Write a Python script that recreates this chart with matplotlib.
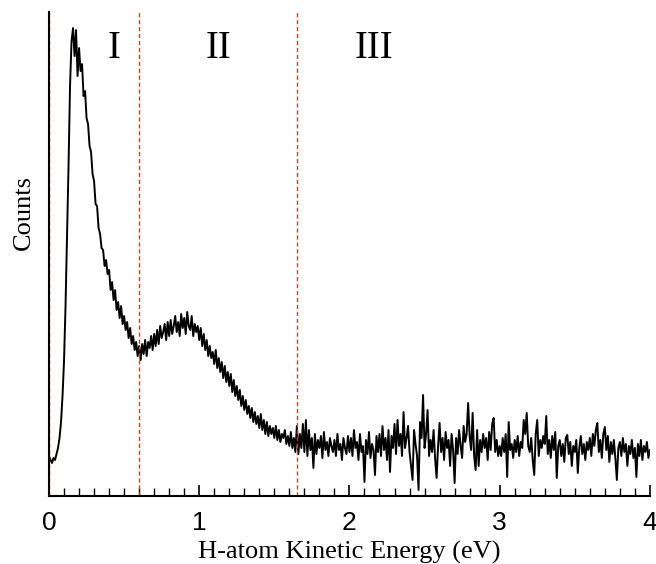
import numpy as np
import matplotlib.pyplot as plt
from matplotlib.ticker import MultipleLocator

# kinetic energy grid, 0.01 eV steps (0 ... 4 eV)
energy = np.arange(401) * 0.01

# counts (arbitrary units), one row per 0.1 eV
counts = [
    40, 36, 33, 38, 36, 42, 48, 58, 74, 100,
    135, 190, 260, 330, 410, 455, 468, 440, 466, 420,
    448, 425, 432, 400, 405, 378, 372, 350, 344, 322,
    315, 292, 290, 268, 262, 248, 246, 230, 236, 222,
    226, 206, 214, 196, 206, 186, 194, 178, 190, 172,
    180, 166, 174, 158, 168, 152, 160, 146, 154, 140,
    150, 136, 152, 142, 156, 140, 154, 148, 160, 146,
    162, 150, 166, 152, 170, 158, 164, 172, 156, 174,
    160, 176, 162, 170, 180, 164, 174, 160, 182, 168,
    178, 162, 184, 170, 166, 180, 160, 172, 164, 170,
    156, 168, 150, 162, 146, 156, 140, 150, 138, 144,
    132, 146, 128, 138, 124, 134, 118, 130, 114, 124,
    110, 122, 104, 116, 100, 110, 96, 106, 90, 100,
    86, 96, 82, 90, 78, 88, 74, 84, 72, 80,
    68, 82, 66, 76, 62, 74, 60, 70, 62, 68,
    58, 70, 56, 66, 54, 62, 58, 66, 52, 60,
    50, 64, 48, 58, 44, 70, 42, 62, 48, 72,
    44, 76, 40, 66, 46, 58, 28, 62, 42, 56,
    48, 60, 38, 64, 46, 54, 40, 58, 50, 44,
    56, 40, 62, 46, 52, 36, 58, 48, 42, 60,
    44, 58, 40, 66, 48, 54, 36, 62, 44, 50,
    14, 56, 42, 64, 38, 52, 46, 21, 60, 44,
    62, 40, 70, 46, 58, 36, 66, 24, 60, 48,
    72, 42, 76, 50, 62, 40, 84, 48, 58, 70,
    44, 30, 16, 66, 52, 40, 6, 74, 58, 101,
    48, 62, 86, 40, 56, 44, 66, 38, 18, 50,
    73, 44, 58, 36, 64, 48, 56, 30, 62, 46,
    13, 58, 42, 66, 50, 38, 70, 54, 62, 93,
    60, 46, 83, 40, 26, 66, 30, 56, 44, 62,
    48, 58, 36, 64, 46, 72, 78, 44, 56, 40,
    50, 40, 58, 44, 62, 19, 74, 46, 52, 38,
    56, 44, 60, 40, 54, 48, 76, 62, 83, 50,
    44, 58, 36, 21, 62, 76, 40, 56, 48, 60,
    52, 80, 42, 56, 38, 60, 46, 64, 18, 50,
    56, 40, 52, 34, 58, 61, 42, 54, 30, 50,
    44, 56, 23, 48, 60, 42, 52, 36, 54, 46,
    58, 40, 62, 50, 66, 73, 44, 56, 38, 62,
    69, 46, 60, 34, 54, 42, 56, 38, 16, 48,
    54, 40, 58, 44, 52, 30, 50, 42, 56, 38,
    48, 19, 52, 40, 56, 36, 50, 44, 54, 38,
    46,
]

# region boundaries and labels
boundaries = [0.0, 0.6, 1.65]
region_names = ["I", "II", "III"]
region_x = [0.43, 1.13, 2.16]

serif = "Liberation Serif"
sans = "Liberation Sans"

fig = plt.figure(figsize=(6.56, 5.64), dpi=100)
ax = fig.add_axes([0.0747, 0.1206, 0.916, 0.858])

ax.plot(energy, counts, color="black", linewidth=1.4)

for b in boundaries:
    ax.axvline(b, color="#ff2a2a", linestyle=(0, (3, 2)), linewidth=1.0)

for name, xpos in zip(region_names, region_x):
    ax.text(xpos, 448, name, family=serif, fontsize=28,
            ha="center", va="center")

ax.set_xlim(0, 4)
ax.set_ylim(0, 484)

ax.spines["top"].set_visible(False)
ax.spines["right"].set_visible(False)
ax.spines["left"].set_linewidth(1.5)
ax.spines["bottom"].set_linewidth(1.5)

ax.set_yticks([])
ax.xaxis.set_major_locator(MultipleLocator(1))
ax.xaxis.set_minor_locator(MultipleLocator(0.1))
ax.tick_params(axis="x", which="major", direction="in", length=8,
               width=1.2, pad=11, labelsize=19)
ax.tick_params(axis="x", which="minor", direction="in", length=6, width=1.0)
for lab in ax.get_xticklabels():
    lab.set_family(sans)

ax.set_xlabel("H-atom Kinetic Energy (eV)", family=serif, fontsize=19,
              labelpad=4)
ax.set_ylabel("Counts", family=serif, fontsize=19)
ax.yaxis.set_label_coords(-0.023, 0.585)

fig.savefig("out.png", dpi=100)
